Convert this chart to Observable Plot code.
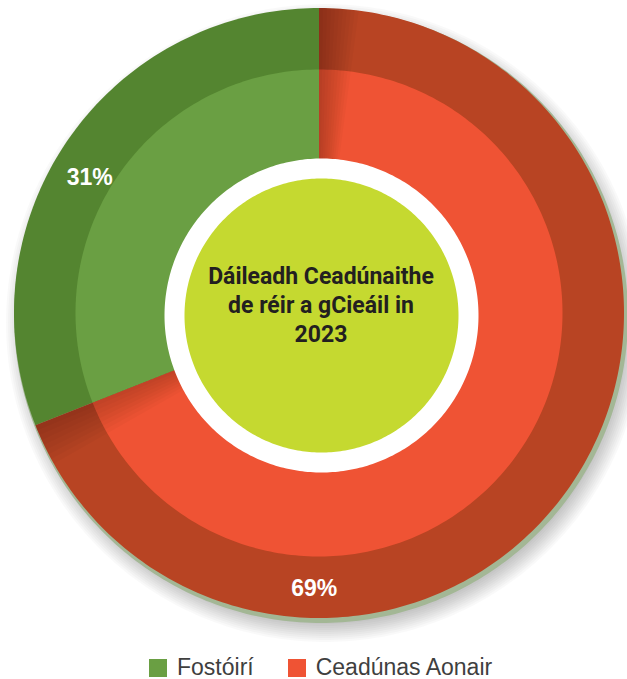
<!DOCTYPE html>
<html><head><meta charset="utf-8">
<script src="https://cdn.jsdelivr.net/npm/d3@7"></script>
<script src="https://cdn.jsdelivr.net/npm/@observablehq/plot@0.6"></script>
<style>
html,body{margin:0;padding:0;background:#fff;}
#chart svg{display:block;}
.legend{display:flex;height:24px;padding-left:149px;font-family:"Liberation Sans",Arial,sans-serif;font-size:23px;line-height:24px;color:#3f3f3f;white-space:nowrap;}
.item{display:flex;align-items:flex-start;}
.sw{width:18px;height:18px;margin-top:4px;margin-right:10px;}
</style></head><body>
<div id="chart"></div>
<script>
// ---- data ----
const categories = ["Fostóirí", "Ceadúnas Aonair"];
const shares = [31, 69];
const shareLabels = ["31%", "69%"];
const centreTitle = ["Dáileadh Ceadúnaithe", "de réir a gCieáil in", "2023"];
const outerPalette = ["#548530", "#b84423"];
const innerPalette = ["#6a9f43", "#ef5334"];

// ---- layout ----
const W = 627, H = 655;
const cx = 318.5, cy = 312.5;
const R = 305, Rin = 243.5;
const ccx = 321, ccy = 315, Rwhite = 157, Ryellow = 137;
const labelPlacement = [{angle: -59.5, r: 266}, {angle: 181, r: 276}];
const titleBaselines = [283, 312, 341];
const titleSize = 23;

const pie = d3.pie().sort(null)
  .startAngle(-2 * Math.PI * shares[0] / d3.sum(shares));
pie.endAngle(pie.startAngle()() + 2 * Math.PI);
const arcs = pie(shares);

function ring(id, a0, a1, r0, r1, x0, y0, fill) {
  const n = Math.max(8, Math.ceil(Math.abs(a1 - a0) / (Math.PI / 180)));
  const pts = [];
  for (let i = 0; i <= n; i++) {
    const a = a0 + (a1 - a0) * i / n;
    pts.push({id, fill, x: x0 + r1 * Math.sin(a), y: y0 - r1 * Math.cos(a)});
  }
  if (r0 > 0) {
    for (let i = n; i >= 0; i--) {
      const a = a0 + (a1 - a0) * i / n;
      pts.push({id, fill, x: x0 + r0 * Math.sin(a), y: y0 - r0 * Math.cos(a)});
    }
  } else {
    pts.push({id, fill, x: x0, y: y0});
  }
  return pts;
}
const circle = (id, x0, y0, r, fill) => ring(id, 0, 2 * Math.PI, 0, r, x0, y0, fill);
const deg = Math.PI / 180;

// soft drop shadow
const shadow = d3.range(10).flatMap(k => circle("s" + k, cx + 6, cy + 10, R - 4 + k * 2, "#000"));
// rim
const rim = circle("rim", cx + 2, cy + 3, R + 2, "#a3b795");
// outer & inner sectors
const outer = arcs.flatMap((d, i) => ring("o" + i, d.startAngle, d.endAngle, 0, R, cx, cy, outerPalette[i]));
const inner = arcs.flatMap((d, i) => ring("i" + i, d.startAngle, d.endAngle, 0, Rin, cx, cy, innerPalette[i]));
// soft shading near the boundaries on the red sector
const redArc = arcs[1];
const shadeA = d3.range(1, 11).flatMap(k => ring("ha" + k, redArc.startAngle, redArc.startAngle + k * 0.75 * deg, 0, R, cx, cy, "#000"));
const shadeB = d3.range(1, 9).flatMap(k => ring("hb" + k, redArc.endAngle - k * 1.0 * deg, redArc.endAngle, 0, R, cx, cy, "#000"));
const white = circle("w", ccx, ccy, Rwhite, "#ffffff");
const yellow = circle("y", ccx, ccy, Ryellow, "#c5d930");

const labels = shareLabels.map((t, i) => {
  const a = labelPlacement[i].angle * deg, r = labelPlacement[i].r;
  return {text: t, x: cx + r * Math.sin(a), y: cy - r * Math.cos(a)};
});
const titleRows = centreTitle.map((t, i) => ({text: t, x: ccx - 0.5, y: titleBaselines[i] - 0.32 * titleSize}));

const poly = (data, opts = {}) => Plot.line(data, {x: "x", y: "y", z: "id", fill: "fill", stroke: "none", ...opts});

const chart = Plot.plot({
  width: W, height: H,
  margin: 0,
  x: {domain: [0, W], range: [0, W], axis: null},
  y: {domain: [0, H], range: [0, H], axis: null},
  color: {type: "identity"},
  style: {background: "#fff"},
  marks: [
    poly(shadow, {fillOpacity: 0.022}),
    poly(rim),
    poly(outer),
    poly(inner),
    poly(shadeA, {fillOpacity: 0.022}),
    poly(shadeB, {fillOpacity: 0.025}),
    poly(white),
    poly(yellow),
    Plot.text(labels, {x: "x", y: "y", text: "text", fill: "#fff", fontSize: 23, fontWeight: "bold",
      fontFamily: '"Liberation Sans", Arial, sans-serif', textAnchor: "middle"}),
    Plot.text(titleRows, {x: "x", y: "y", text: "text", fill: "#231f20", fontSize: titleSize, fontWeight: "bold",
      fontFamily: 'Roboto, "Liberation Sans", Arial, sans-serif', textAnchor: "middle"})
  ]
});
const host = document.getElementById("chart");
host.appendChild(chart);

// legend below the plot
const legend = document.createElement("div");
legend.className = "legend";
categories.forEach((c, i) => {
  const item = document.createElement("div");
  item.className = "item";
  item.style.marginRight = i === 0 ? "34px" : "0";
  const sw = document.createElement("span");
  sw.className = "sw";
  sw.style.background = innerPalette[i];
  const tx = document.createElement("span");
  tx.textContent = c;
  item.appendChild(sw); item.appendChild(tx);
  legend.appendChild(item);
});
host.appendChild(legend);
</script>
</body></html>
